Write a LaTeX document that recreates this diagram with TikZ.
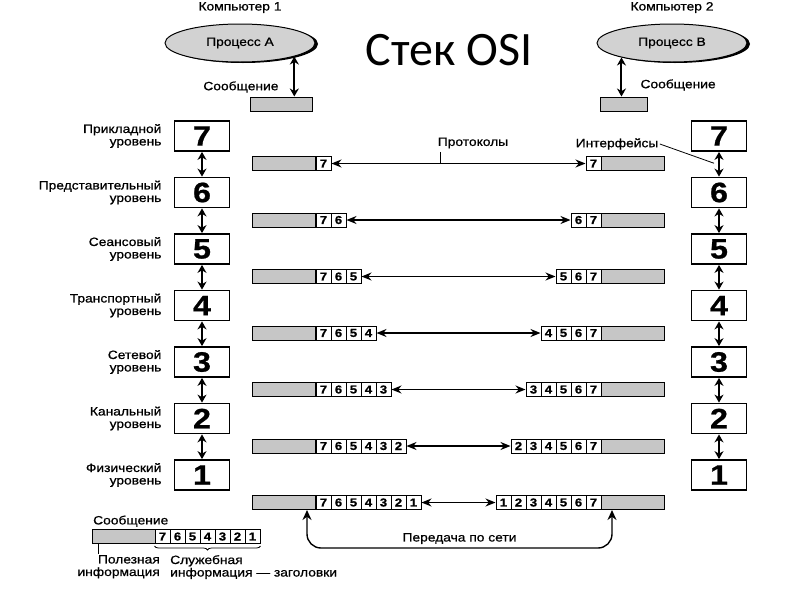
\documentclass[tikz,border=0pt]{standalone}
\usepackage{fontspec}
\setmainfont{Liberation Sans}[FakeStretch=1.15, FakeBold=0.8]
\newfontfamily\titlefont{Carlito}
\usetikzlibrary{arrows.meta,positioning,calc,shapes.geometric,shadows,decorations.pathreplacing}

\begin{document}
\begin{tikzpicture}[x=1pt, y=-1pt,
  every node/.style={font=\fontsize{12}{12.5}\selectfont},
  procell/.style={
    ellipse, draw, line width=1pt, fill=gray!35,
    minimum width=150pt, minimum height=38pt,
    drop shadow={shadow xshift=3pt, shadow yshift=-1pt, fill=black, opacity=1}
  },
  layerbox/.style={
    rectangle, draw, line width=1.8pt, fill=white,
    minimum width=55pt, minimum height=30pt, inner sep=0pt,
    font=\fontsize{28}{28}\selectfont\bfseries
  },
  layername/.style={align=right, inner sep=1pt},
  payload/.style={
    rectangle, draw, line width=1pt, fill=gray!45,
    minimum width=63pt, minimum height=14pt, inner sep=0pt
  },
  hdrcell/.style={
    rectangle, draw, line width=1pt, fill=white,
    minimum width=15pt, minimum height=14pt, inner sep=0pt,
    font=\fontsize{11.5}{11.5}\selectfont\bfseries
  },
  updown/.style={
    {Stealth[length=8pt,width=9pt]}-{Stealth[length=8pt,width=9pt]}, line width=2pt
  },
  peer/.style={
    {Stealth[length=10pt,width=8pt]}-{Stealth[length=10pt,width=8pt]}, line width=1.3pt
  },
]
\useasboundingbox (0,0) rectangle (800,600);

% --- Title ---
\node[font=\titlefont\fontsize{48}{48}\selectfont] (title) at (449,50) {Стек OSI};

% --- Processes ---
\node[procell] (ellA) at (240,43) {Процесс А};
\node[procell] (ellB) at (672,43) {Процесс В};
\node[above=7pt of ellA] (compA) {Компьютер 1};
\node[above=7pt of ellB] (compB) {Компьютер 2};

\node[payload, minimum width=62pt] (msgA) at (281,104) {};
\node[payload, minimum width=47pt] (msgB) at (623.5,104) {};
\draw[updown] (ellA.-14) -- (ellA.-14 |- msgA.north);
\draw[updown] (ellB.-164) -- (ellB.-164 |- msgB.north);
\node[anchor=east] (msgAT) at (282,87) {Сообщение};
\node[anchor=west] (msgBT) at (637,85) {Сообщение};

% --- Layer stacks ---
\foreach \l in {1,...,7}{
  \node[layerbox] (A\l) at (202,{136+(7-\l)*56.5}) {\l};
  \node[layerbox] (B\l) at (719,{136+(7-\l)*56.5}) {\l};
}
\foreach \l/\lname in {7/Прикладной,6/Представительный,5/Сеансовый,
    4/Транспортный,3/Сетевой,2/Канальный,1/Физический}
  \node[layername, left=11pt of A\l] (N\l) {\lname\\уровень};
\foreach \l [evaluate=\l as \u using int(\l+1)] in {1,...,6}{
  \draw[updown] (A\u.south) -- (A\l.north);
  \draw[updown] (B\u.south) -- (B\l.north);
}

% --- Messages with headers ---
\foreach \l in {1,...,7}{
  \pgfmathsetmacro\ry{163.5+(7-\l)*56.5}
  \node[payload, anchor=east] (LP\l) at (316,\ry) {};
  \node[payload, anchor=west] (RP\l) at (601,\ry) {};
  \foreach \h in {7,...,\l}{
    \node[hdrcell] (LC\l-\h) at ({323.5+(7-\h)*15},\ry) {\h};
    \node[hdrcell] (RC\l-\h) at ({593.5-(7-\h)*15},\ry) {\h};
  }
  \draw[peer] (LC\l-\l.east) -- (RC\l-\l.west);
}

% Protocols / interfaces
\node (proto) at (473,143) {Протоколы};
\draw[line width=1.2pt] ([xshift=6pt]proto.south west) -- ([xshift=6pt]proto.south west |- LC7-7.center);
\node (iface) at (617,144) {Интерфейсы};
\coordinate (ifc) at ($(B7.south)!0.5!(B6.north)+(-5,-1)$);
\draw[line width=0.8pt] ([xshift=-2pt]iface.east) -- (ifc);

% Transfer over network
\draw[{Stealth[length=10pt,width=9pt]}-{Stealth[length=10pt,width=9pt]}, line width=1.4pt, rounded corners=14pt]
  ([xshift=-9pt]LP1.south east) -- ++(0,38)
  -| node[pos=0.25, above=0pt] (net) {Передача по сети}
  ([xshift=11pt]RP1.south west);

% --- Legend ---
\node[payload, anchor=west] (legP) at (92,536.5) {};
\foreach \h in {7,...,1}
  \node[hdrcell] (legC\h) at ({162.5+(7-\h)*15},536.5) {\h};
\node[anchor=south west, inner sep=1pt] (legT) at ([yshift=1pt]legP.north west) {Сообщение};
\draw[line width=1pt] ([xshift=6pt]legP.south west) -- ++(0,10);
\draw[decorate, decoration={brace, mirror, amplitude=4pt}, line width=0.8pt]
  ([yshift=-2pt]legC7.south west) -- ([yshift=-2pt]legC1.south east);
\node[anchor=north east, align=right, inner sep=1pt] (usefulT) at (161,554) {Полезная\\информация};
\node[anchor=north west, align=left, inner sep=1pt] (hdrT) at (169,554) {Служебная\\информация — заголовки};

\end{tikzpicture}
\end{document}
